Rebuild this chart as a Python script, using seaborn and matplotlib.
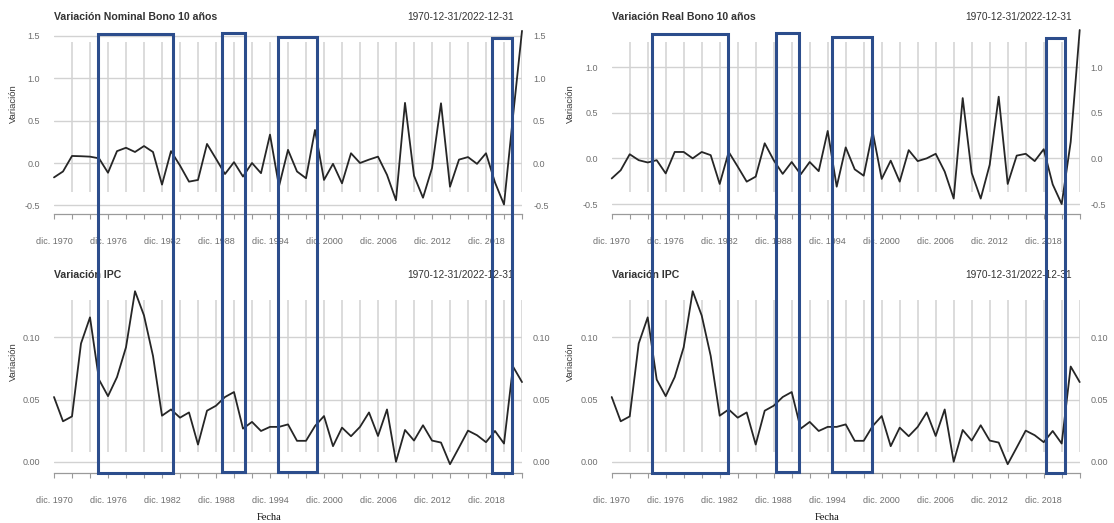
"""Variación bono 10 años (nominal / real) e IPC, 1970-2022, con periodos marcados."""
import matplotlib

matplotlib.use("Agg")
import matplotlib.pyplot as plt
import matplotlib.transforms as mtransforms
import pandas as pd
import seaborn as sns
from matplotlib.patches import Rectangle

years = list(range(1970, 2023))

nominal = [-0.17, -0.10, 0.083, 0.08, 0.075, 0.055, -0.115, 0.14, 0.18, 0.13,
           0.20, 0.13, -0.255, 0.14, -0.03, -0.22, -0.20, 0.225, 0.05, -0.13,
           0.01, -0.16, 0.0, -0.12, 0.335, -0.275, 0.155, -0.10, -0.18, 0.39,
           -0.20, -0.01, -0.24, 0.115, 0.0, 0.04, 0.075, -0.14, -0.44, 0.71,
           -0.15, -0.41, -0.06, 0.705, -0.28, 0.04, 0.07, -0.01, 0.115, -0.23,
           -0.49, 0.55, 1.56]

real = [-0.22, -0.13, 0.045, -0.02, -0.045, -0.02, -0.165, 0.07, 0.07, 0.0,
        0.07, 0.035, -0.28, 0.07, -0.09, -0.255, -0.20, 0.165, -0.02, -0.17,
        -0.04, -0.175, -0.04, -0.14, 0.30, -0.31, 0.12, -0.12, -0.19, 0.29,
        -0.225, -0.025, -0.255, 0.09, -0.03, 0.0, 0.05, -0.145, -0.44, 0.66,
        -0.16, -0.44, -0.07, 0.675, -0.28, 0.03, 0.05, -0.03, 0.10, -0.285,
        -0.50, 0.18, 1.405]

ipc = [0.052, 0.0325, 0.0364, 0.095, 0.116, 0.066, 0.0527, 0.068, 0.092, 0.137,
       0.1175, 0.085, 0.037, 0.042, 0.0354, 0.0396, 0.0138, 0.041, 0.045, 0.052,
       0.056, 0.0266, 0.032, 0.0247, 0.028, 0.028, 0.030, 0.0168, 0.0168, 0.0287,
       0.0367, 0.0125, 0.0274, 0.0205, 0.028, 0.0396, 0.0207, 0.042, 0.0, 0.0255,
       0.017, 0.0293, 0.017, 0.0154, -0.002, 0.0114, 0.025, 0.0213, 0.0157, 0.0247,
       0.0146, 0.0765, 0.064]

titles = ["Variación Nominal Bono 10 años", "Variación Real Bono 10 años",
          "Variación IPC", "Variación IPC"]
date_range = "1970-12-31/2022-12-31"
bond_ticks = [-0.5, 0.0, 0.5, 1.0, 1.5]
ipc_ticks = [0.00, 0.05, 0.10]

# periodos marcados (años) en cada columna
periods_left = [(1974.9, 1983.25), (1988.7, 1991.25), (1994.9, 1999.25), (2018.7, 2020.9)]
periods_right = [(1974.5, 1982.9), (1988.3, 1990.8), (1994.5, 1998.9), (2018.3, 2020.4)]

W, H = 1114, 523
GRID = "#dcdcdc"
TICK = "#6e6e6e"
BLUE = "#2c4d8c"

sns.set_theme(style="white")
plt.rcParams["font.family"] = ["Liberation Sans", "DejaVu Sans"]

fig = plt.figure(figsize=(W / 100, H / 100), dpi=100)


def px_axes(x0, x1, ytop, ybot):
    return fig.add_axes([x0 / W, 1 - ybot / H, (x1 - x0) / W, (ybot - ytop) / H])


def draw_panel(ax, values, title, ylim, yticks, fmt, xlabel=False):
    df = pd.DataFrame({"year": years, "value": values})
    ax.set_xlim(years[0], years[-1])
    ax.set_ylim(*ylim)
    ax.vlines(range(1972, 2023, 2), 0.117, 0.935,
              transform=ax.get_xaxis_transform(), color=GRID, lw=1.4, zorder=0)
    for t in yticks:
        ax.axhline(t, color="#d2d2d2", lw=1.0, zorder=0)
    sns.lineplot(data=df, x="year", y="value", ax=ax, color="#262626",
                 lw=1.3, clip_on=False, zorder=3)

    labels = [fmt.format(t) for t in yticks]
    ax.set_yticks(yticks, labels)
    ax.tick_params(axis="y", which="both", left=False, right=False, length=0,
                   pad=10, labelsize=6.5, labelcolor=TICK)
    ax2 = ax.twinx()
    ax2.set_ylim(*ylim)
    ax2.set_yticks(yticks, labels)
    ax2.tick_params(axis="y", which="both", left=False, right=False, length=0,
                    pad=8, labelsize=6.5, labelcolor=TICK)

    xt = list(range(1970, 2023, 2))
    ax.set_xticks(xt, [f"dic. {y}" if (y - 1970) % 6 == 0 else "" for y in xt])
    ax.tick_params(axis="x", bottom=True, length=3.5, width=0.8, color="#9a9a9a",
                   pad=13, labelsize=6.5, labelcolor=TICK)
    for a in (ax, ax2):
        for side in ("top", "left", "right", "bottom"):
            a.spines[side].set_visible(False)
    ax.spines["bottom"].set_visible(True)
    ax.spines["bottom"].set_color("#9a9a9a")
    ax.spines["bottom"].set_linewidth(0.9)

    ax.set_ylabel("Variación", fontsize=6.8, color="#3a3a3a")
    ax.yaxis.set_label_coords(-0.078, 0.6)
    if xlabel:
        ax.set_xlabel("Fecha", fontsize=7.5, color="#111111",
                      family=["Liberation Serif", "DejaVu Serif"])
        ax.xaxis.label.set_va("center")
        ax.xaxis.set_label_coords(0.46, -0.236)
    else:
        ax.set_xlabel("")

    ytxt = 1 + 13 / (ax.get_position().height * H)
    ax.text(0, ytxt, title, transform=ax.transAxes, ha="left", va="center",
            fontsize=7.6, fontweight="bold", color="#333333")
    ax.text(1 - 8 / 468, ytxt, date_range, transform=ax.transAxes, ha="right",
            va="center", fontsize=7.3, color="#333333")


cols = [(54, 522), (611.7, 1079.7)]
ax_tl = px_axes(*cols[0], 30, 214)
ax_tr = px_axes(*cols[1], 30, 214)
ax_bl = px_axes(*cols[0], 288, 473.3)
ax_br = px_axes(*cols[1], 288, 473.3)

draw_panel(ax_tl, nominal, titles[0], (-0.602, 1.570), bond_ticks, "{:.1f}")
draw_panel(ax_tr, real, titles[1], (-0.609, 1.405), bond_ticks[:-1], "{:.1f}")
draw_panel(ax_bl, ipc, titles[2], (-0.0093, 0.1396), ipc_ticks, "{:.2f}", xlabel=True)
draw_panel(ax_br, ipc, titles[3], (-0.0093, 0.1396), ipc_ticks, "{:.2f}", xlabel=True)

# recuadros azules que cruzan ambos paneles de cada columna
rect_top = [34.3, 33.3, 37.3, 38.3]
rect_bot = [473.3, 471.7, 471.7, 473.3]
for ax, periods in ((ax_tl, periods_left), (ax_tr, periods_right)):
    trans = mtransforms.blended_transform_factory(ax.transData, fig.transFigure)
    for (start, end), top, bot in zip(periods, rect_top, rect_bot):
        fig.add_artist(Rectangle((start, 1 - bot / H), end - start, (bot - top) / H,
                                 transform=trans, fill=False, edgecolor=BLUE,
                                 lw=2.2, zorder=10, clip_on=False))

fig.savefig("out.png", dpi=100)
